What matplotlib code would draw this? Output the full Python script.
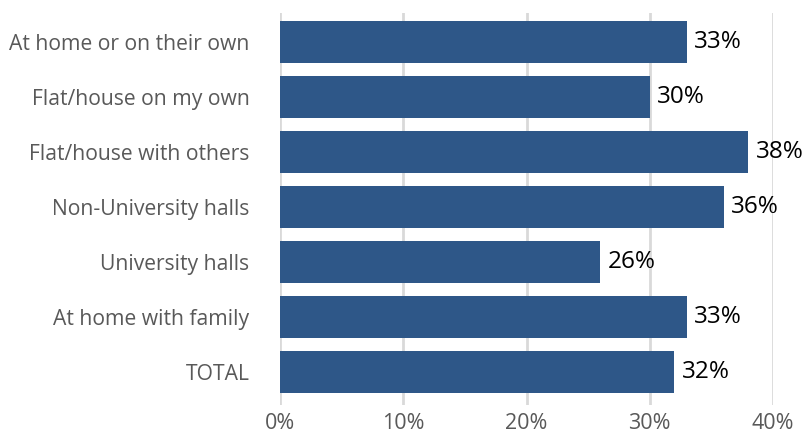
import numpy as np
import matplotlib.pyplot as plt

plt.rcParams['font.family'] = ['Open Sans', 'DejaVu Sans']

categories = ["At home or on their own", "Flat/house on my own", "Flat/house with others",
              "Non-University halls", "University halls", "At home with family", "TOTAL"]
values = [33, 30, 38, 36, 26, 33, 32]
xticks = [0, 10, 20, 30, 40]
xtick_labels = ["0%", "10%", "20%", "30%", "40%"]

bar_color = "#2E5788"
grid_color = "#D9D9D9"
label_color = "#595959"

fig = plt.figure(figsize=(8.07, 4.34), dpi=100)
# plot area in pixels: x 280..773, y 13..405
ax = fig.add_axes([280 / 807, 1 - 405 / 434, (773 - 280) / 807, (405 - 13) / 434])

y = np.arange(len(categories))
ax.barh(y, values, height=0.76, color=bar_color, zorder=3)

for yi, v in zip(y, values):
    ax.text(v + 0.6, yi, f"{v}%", va="center", ha="left", fontsize=17.5, color="black")

ax.set_xlim(0, 40)
ax.set_ylim(len(categories) - 1 + 0.6, -0.53)
ax.set_yticks(y)
ax.set_yticklabels(categories, fontsize=15.2, color=label_color)
ax.set_xticks(xticks)
ax.set_xticklabels(xtick_labels, fontsize=15.5, color=label_color)
ax.tick_params(axis="both", length=0)
ax.tick_params(axis="y", pad=22)
ax.tick_params(axis="x", pad=6)

ax.grid(axis="x", color=grid_color, linewidth=2, zorder=0)
for s in ax.spines.values():
    s.set_visible(False)

fig.savefig("out.png", dpi=100)
